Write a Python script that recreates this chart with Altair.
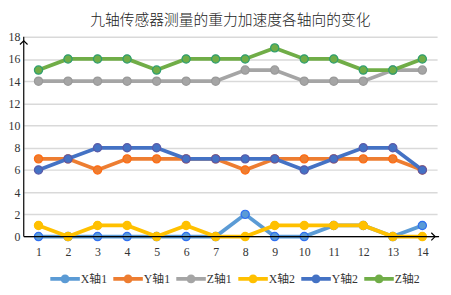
import altair as alt
import pandas as pd

categories = list(range(1, 15))
names = ["X轴1", "Y轴1", "Z轴1", "X轴2", "Y轴2", "Z轴2"]
x1 = [0, 0, 0, 0, 0, 0, 0, 2, 0, 0, 1, 1, 0, 1]
y1 = [7, 7, 6, 7, 7, 7, 7, 6, 7, 7, 7, 7, 7, 6]
z1 = [14, 14, 14, 14, 14, 14, 14, 15, 15, 14, 14, 14, 15, 15]
x2 = [1, 0, 1, 1, 0, 1, 0, 0, 1, 1, 1, 1, 0, 0]
y2 = [6, 7, 8, 8, 8, 7, 7, 7, 7, 6, 7, 8, 8, 6]
z2 = [15, 16, 16, 16, 15, 16, 16, 16, 17, 16, 16, 15, 15, 16]
series = [x1, y1, z1, x2, y2, z2]
colors = ["#5B9BD5", "#ED7D31", "#A5A5A5", "#FFC000", "#4472C4", "#70AD47"]
edges = ["#2F6FF0", "#FF6A10", "#9A9A9A", "#FFC000", "#5A5AA8", "#2E9E70"]
y_ticks = [0, 2, 4, 6, 8, 10, 12, 14, 16, 18]

rows = []
for n, vals in zip(names, series):
    for c, v in zip(categories, vals):
        rows.append({"cat": c, "val": v, "series": n})
df = pd.DataFrame(rows)

W, H = 420, 203
serif = "'Liberation Serif', 'Noto Sans CJK SC', serif"

xenc = alt.X("cat:O", scale=alt.Scale(type="point", padding=0.5),
             axis=alt.Axis(title=None, labelAngle=0, ticks=False, domain=False,
                           labelFont=serif, labelFontSize=12, labelColor="#333333",
                           labelPadding=10, grid=False))
yenc = alt.Y("val:Q", scale=alt.Scale(domain=[0, 18], nice=False, zero=True),
             axis=alt.Axis(title=None, values=y_ticks, ticks=False, domain=False,
                           labelFont=serif, labelFontSize=12, labelColor="#333333",
                           labelPadding=4, gridColor="#D9D9D9", gridWidth=1.5,
                           labelOverlap=False))

legend_path = ("M-1,-0.12 L1,-0.12 L1,0.12 L-1,0.12 Z "
               "M0.3,0 A0.3,0.3 0 1,1 -0.3,0 A0.3,0.3 0 1,1 0.3,0 Z")
color_enc = alt.Color("series:N", scale=alt.Scale(domain=names, range=colors),
                      legend=alt.Legend(title=None, orient="none", direction="horizontal",
                                        legendX=27, legendY=H + 28,
                                        symbolType=legend_path, symbolSize=900,
                                        symbolStrokeWidth=0, labelFont=serif,
                                        labelFontSize=12, labelColor="#333333",
                                        columnPadding=6, labelOffset=1))

base = alt.Chart(df)
layers = []
for i, n in enumerate(names):
    sub = base.transform_filter(alt.datum.series == n)
    layers.append(sub.mark_line(strokeWidth=3.8).encode(
        x=xenc, y=yenc, color=color_enc))
    layers.append(sub.mark_point(filled=True, size=70, opacity=1,
                                 stroke=edges[i], strokeWidth=1.2).encode(
        x=xenc, y=yenc, color=color_enc))

one = pd.DataFrame({"a": [0]})
yaxis_line = alt.Chart(one).mark_rule(color="black", strokeWidth=1.2).encode(
    x=alt.value(0), y=alt.value(0), y2=alt.value(H))
xaxis_line = alt.Chart(one).mark_rule(color="black", strokeWidth=1.2).encode(
    x=alt.value(0), x2=alt.value(W + 2), y=alt.value(H))
up_arrow = alt.Chart(one).mark_point(
    shape="M-1,1 L0,0 L1,1", size=60, stroke="black", strokeWidth=1.2, filled=False, opacity=1
).encode(x=alt.value(0), y=alt.value(4))
right_arrow = alt.Chart(one).mark_point(
    shape="M-1,-1 L0,0 L-1,1", size=60, stroke="black", strokeWidth=1.2, filled=False, opacity=1
).encode(x=alt.value(W - 2), y=alt.value(H))

chart = alt.layer(*layers, yaxis_line, xaxis_line, up_arrow, right_arrow).properties(
    width=W, height=H,
    padding={"left": 0, "top": 3, "right": 3, "bottom": 0},
    title=alt.TitleParams("九轴传感器测量的重力加速度各轴向的变化", font="Noto Sans CJK SC",
                          fontSize=15, fontWeight=300, color="#222222", offset=3,
                          anchor="middle"),
).configure_view(stroke=None)

chart.save("out.html", embed_options={"renderer": "svg", "actions": False})
